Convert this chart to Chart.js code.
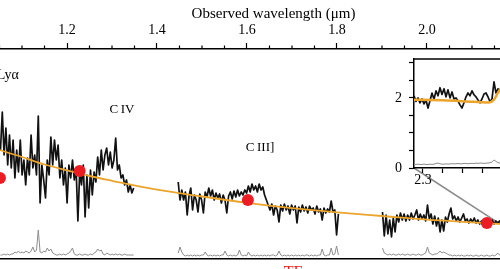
<!DOCTYPE html>
<html>
<head>
<meta charset="utf-8">
<script src="https://cdn.jsdelivr.net/npm/chart.js@4.4.0/dist/chart.umd.min.js"></script>
<style>
  html, body { margin: 0; padding: 0; background: #fff; }
  body { width: 500px; height: 269px; overflow: hidden; position: relative; }
  #mainWrap { position: absolute; left: -45px; top: 0; width: 637px; height: 269px; }
  #insetWrap { position: absolute; left: 370px; top: 50px; width: 220px; height: 140px; }
  #note { position: absolute; left: 265px; top: 264px; color: #e8201c; font: 16px/16px "Liberation Serif", serif; word-spacing: 8px; white-space: nowrap; }
</style>
</head>
<body>
<div id="mainWrap"><canvas id="mainChart" width="637" height="269"></canvas></div>
<div id="insetWrap"><canvas id="insetChart" width="220" height="140"></canvas></div>
<div id="note">a TE</div>
<script>
// binned spectrum: wavelength step (um) and three segments between the telluric gaps
const STEP = 0.004;

const SEG1_START = 1.0522;
const SEG1_FLUX = [109,147,104,131,94,124,91,119,81,109,87,119,84,99,74,101,84,124,91,104,
  84,143,56,94,79,61,99,84,122,94,119,99,114,81,99,74,91,56,94,81,
  99,79,91,38,87,74,94,42,84,51,89,64,87,77,102,84,109,89,104,111,
  94,107,91,99,121,89,94,81,84,74,79,67,74,66,71];
const SEG1_NOISE = [4,4,5,4,5,4,5,5,7,6,8,6,7,6,8,7,6,8,12,7,
  9,29,7,6,8,7,11,8,10,6,5,4,4,5,4,5,4,5,6,8,
  11,5,4,4,5,4,4,5,4,4,5,4,6,7,10,8,9,5,4,6,
  5,4,5,4,5,4,5,4,4,5,4,4,4,4,4];

const SEG2_START = 1.4471;
const SEG2_FLUX = [77,59,69,59,67,44,63,71,49,64,59,47,65,59,46,67,62,71,63,69,
  59,66,61,65,56,64,59,46,63,67,60,68,62,69,63,67,64,69,66,73,
  67,75,69,73,67,75,69,72,64,59,54,49,55,44,53,49,37,54,48,55,
  49,53,45,54,49,53,36,52,47,54,48,52,46,53,49,51,45,53,47,50,
  39,51,46,50,47,58,47,49,24,45];
const SEG2_NOISE = [6,12,7,4,3,4,3,4,3,4,3,4,3,4,4,7,4,3,4,3,
  4,3,4,3,4,4,8,4,3,4,3,4,3,4,9,4,3,4,3,7,
  4,3,4,3,4,3,4,3,4,3,4,3,4,4,3,4,8,4,3,4,
  3,4,3,4,3,4,3,4,3,4,3,4,4,3,4,3,4,3,4,4,
  10,4,3,4,4,11,4,5,13,4];

const SEG3_START = 1.9011;
const SEG3_FLUX = [47,23,44,25,39,22,41,27,44,37,46,39,45,38,44,39,46,40,44,49,
  39,45,40,44,38,54,40,45,35,43,33,41,27,39,28,42,37,45,51,40,
  43,38,42,37,41,45,38,40,36,40,37,41,36,39,35,38,36,39,35,38,
  36,39,35,38,36,38,35,37];
const SEG3_NOISE = [11,6,5,4,5,4,5,4,4,5,4,5,4,4,5,4,4,5,4,4,
  5,4,4,5,6,12,6,5,4,5,5,6,8,6,7,6,5,4,4,3,
  4,3,4,3,4,3,3,4,3,4,3,3,4,3,3,4,3,3,4,3,
  3,4,3,4,6,4,3,3];

// continuum model
const MODEL_WAVE = [0.95,1.00,1.05,1.10,1.15,1.20,1.25,1.30,1.40,1.50,1.60,1.70,1.80,1.90,2.00,2.10,2.20,2.30,2.37];
const MODEL_FLUX = [128,118,109,102,94.5,88.7,83,78.2,69.3,62.5,56.2,50.9,46.7,43,39.4,36.7,34.1,31.5,30];

// photometry
const PHOT_WAVE = [1.051, 1.228, 1.602, 2.133];
const PHOT_FLUX = [81, 88, 59, 36];

// connector from the inset to the zoomed region
const ZOOM_LINE_WAVE = [1.971, 2.22];
const ZOOM_LINE_FLUX = [91, 18.2];

// top axis
const TICK_VALUES = [1.0, 1.2, 1.4, 1.6, 1.8, 2.0, 2.2];
const TICK_LABELS = ['1.0', '1.2', '1.4', '1.6', '1.8', '2.0', '2.2'];

// line identifications
const LINE_NAMES = ['Lyα', 'C\u2009IV', 'C\u2009III]'];
const LINE_WAVE = [1.044, 1.322, 1.629];
const LINE_FLUX = [184, 149, 111];

// inset (zoom on the red end)
const INSET_STEP = 0.002;
const INSET_START = 2.291;
const INSET_FLUX = [2.06,1.90,2.00,1.86,1.97,1.83,1.94,1.71,1.92,2.14,
  1.96,2.20,2.06,2.29,2.10,2.26,2.03,2.23,2.00,2.17,
  1.97,2.00,1.91,1.80,1.71,1.86,2.03,2.14,2.06,2.20,
  2.09,2.03,1.94,1.86,1.97,2.11,2.14,2.03,1.89,1.97,
  2.46,2.14,2.26,2.20,2.09,2.23,2.14,2.03,2.17,2.06];
const INSET_NOISE = [0.10,0.10,0.11,0.10,0.10,0.11,0.10,0.10,0.11,0.10,
  0.11,0.13,0.14,0.12,0.11,0.11,0.12,0.11,0.12,0.12,
  0.12,0.12,0.13,0.12,0.12,0.13,0.13,0.12,0.13,0.13,
  0.13,0.14,0.13,0.14,0.14,0.13,0.14,0.14,0.15,0.17,
  0.23,0.19,0.15,0.14,0.14,0.15,0.14,0.14,0.15,0.14];
const INSET_MODEL_WAVE = [2.29, 2.32, 2.35, 2.366, 2.371, 2.375, 2.379, 2.385, 2.392, 2.40, 2.43];
const INSET_MODEL_FLUX = [1.95, 1.93, 1.89, 1.87, 1.95, 2.15, 2.30, 2.20, 1.95, 1.86, 1.84];
const INSET_X_TICKS = [2.30, 2.32, 2.34, 2.36, 2.38, 2.40, 2.42];
const INSET_X_LABELS = ['2.3', '', '', '', '', '2.4', ''];
const INSET_Y_TICKS = [0, 0.5, 1, 1.5, 2, 2.5, 3];
const INSET_Y_LABELS = ['0', '', '', '', '2', '', ''];

const BLACK = '#111';
const ORANGE = '#eba42c';
const GREY = '#8c8c8c';
const RED = '#ec1c24';

Chart.defaults.font.family = '"Liberation Serif", "DejaVu Serif", serif';
Chart.defaults.font.size = 14;
Chart.defaults.color = '#000';

function gridPoints(start, step, values) {
  return values.map((v, i) => ({ x: start + i * step, y: v }));
}

function joinSegments(list) {
  const out = [];
  list.forEach(([start, values], n) => {
    if (n > 0) out.push({ x: start - STEP, y: null });
    out.push(...gridPoints(start, STEP, values));
  });
  return out;
}

function pairs(xs, ys) {
  return xs.map((x, i) => ({ x: x, y: ys[i] }));
}

const minorTicks = [];
for (let i = 0; i < TICK_VALUES.length - 1; i++) {
  for (let j = 1; j < 4; j++) minorTicks.push(TICK_VALUES[i] + j * 0.05);
}

const mainDecor = {
  id: 'mainDecor',
  afterDraw(chart) {
    const { ctx, chartArea, scales: { x, y } } = chart;
    ctx.save();
    ctx.strokeStyle = '#000';
    ctx.lineWidth = 1.2;
    minorTicks.forEach(v => {
      const px = x.getPixelForValue(v);
      ctx.beginPath();
      ctx.moveTo(px, chartArea.top);
      ctx.lineTo(px, chartArea.top - 3.5);
      ctx.stroke();
    });
    ctx.fillStyle = '#000';
    ctx.textBaseline = 'middle';
    LINE_NAMES.forEach((name, i) => {
      ctx.font = (i === 0 ? 14 : 13) + 'px "Liberation Serif", serif';
      ctx.textAlign = i === 0 ? 'left' : 'center';
      ctx.fillText(name, x.getPixelForValue(LINE_WAVE[i]), y.getPixelForValue(LINE_FLUX[i]));
    });
    ctx.restore();
  }
};

const XMIN = 0.9511, XMAX = 2.3667;

new Chart(document.getElementById('mainChart'), {
  type: 'line',
  data: {
    datasets: [{
      data: pairs(PHOT_WAVE, PHOT_FLUX),
      showLine: false,
      pointRadius: 6,
      pointBackgroundColor: RED,
      pointBorderWidth: 0
    }, {
      data: pairs(MODEL_WAVE, MODEL_FLUX),
      borderColor: ORANGE,
      borderWidth: 1.8,
      pointRadius: 0,
      cubicInterpolationMode: 'monotone'
    }, {
      data: joinSegments([[SEG1_START, SEG1_FLUX], [SEG2_START, SEG2_FLUX], [SEG3_START, SEG3_FLUX]]),
      borderColor: BLACK,
      borderWidth: 1.7,
      borderJoinStyle: 'round',
      pointRadius: 0,
      spanGaps: false
    }, {
      data: joinSegments([[SEG1_START, SEG1_NOISE], [SEG2_START, SEG2_NOISE], [SEG3_START, SEG3_NOISE]]),
      borderColor: GREY,
      borderWidth: 1,
      pointRadius: 0,
      spanGaps: false
    }, {
      data: pairs(ZOOM_LINE_WAVE, ZOOM_LINE_FLUX),
      borderColor: GREY,
      borderWidth: 1.5,
      pointRadius: 0
    }]
  },
  options: {
    responsive: false,
    animation: false,
    layout: { padding: 0, autoPadding: false },
    plugins: { legend: { display: false }, tooltip: { enabled: false } },
    scales: {
      x: {
        type: 'linear',
        position: 'top',
        min: XMIN,
        max: XMAX,
        afterFit: s => { s.height = 49; },
        afterBuildTicks: s => { s.ticks = TICK_VALUES.map(v => ({ value: v })); },
        ticks: { autoSkip: false, maxRotation: 0, padding: 4, callback: (v, i) => TICK_LABELS[i] },
        grid: { drawOnChartArea: false, tickLength: 6, tickWidth: 1.2, tickColor: '#000' },
        border: { color: '#000', width: 1.5 },
        title: { display: true, text: 'Observed wavelength (μm)', font: { size: 15 }, padding: { top: 5, bottom: 0 } }
      },
      xb: {
        type: 'linear',
        position: 'bottom',
        min: XMIN,
        max: XMAX,
        afterFit: s => { s.height = 10; },
        ticks: { display: false },
        grid: { display: false },
        border: { color: '#000', width: 1.6 }
      },
      y: { display: false, min: 0, max: 210 }
    }
  },
  plugins: [mainDecor]
});

const insetFrame = {
  id: 'insetFrame',
  beforeDraw(chart) {
    const { ctx, chartArea: a } = chart;
    ctx.save();
    ctx.fillStyle = '#fff';
    ctx.fillRect(a.left, a.top, a.right - a.left, a.bottom - a.top);
    ctx.restore();
  },
  afterDraw(chart) {
    const { ctx, chartArea: a } = chart;
    ctx.save();
    ctx.strokeStyle = '#000';
    ctx.lineWidth = 1.5;
    ctx.beginPath();
    ctx.moveTo(a.left, a.top);
    ctx.lineTo(a.right, a.top);
    ctx.lineTo(a.right, a.bottom);
    ctx.stroke();
    ctx.restore();
  }
};

new Chart(document.getElementById('insetChart'), {
  type: 'line',
  data: {
    datasets: [{
      data: pairs(INSET_MODEL_WAVE, INSET_MODEL_FLUX),
      borderColor: ORANGE,
      borderWidth: 2.5,
      pointRadius: 0,
      cubicInterpolationMode: 'monotone'
    }, {
      data: gridPoints(INSET_START, INSET_STEP, INSET_FLUX),
      borderColor: BLACK,
      borderWidth: 1.7,
      borderJoinStyle: 'round',
      pointRadius: 0
    }, {
      data: gridPoints(INSET_START, INSET_STEP, INSET_NOISE),
      borderColor: GREY,
      borderWidth: 1,
      pointRadius: 0
    }]
  },
  options: {
    responsive: false,
    animation: false,
    layout: { padding: { top: 9, right: 30, left: 0, bottom: 0 }, autoPadding: false },
    plugins: { legend: { display: false }, tooltip: { enabled: false } },
    scales: {
      x: {
        type: 'linear',
        min: 2.291,
        max: 2.437,
        afterFit: s => { s.height = 22; s.paddingLeft = 0; s.paddingRight = 0; },
        afterBuildTicks: s => { s.ticks = INSET_X_TICKS.map(v => ({ value: v })); },
        ticks: { autoSkip: false, maxRotation: 0, padding: -1, callback: (v, i) => INSET_X_LABELS[i] },
        grid: { drawOnChartArea: false, tickLength: 5, tickWidth: 1.2, tickColor: '#000' },
        border: { color: '#000', width: 1.5 }
      },
      y: {
        min: 0,
        max: 3.11,
        afterFit: s => { s.width = 44; s.paddingTop = 0; s.paddingBottom = 0; },
        afterBuildTicks: s => { s.ticks = INSET_Y_TICKS.map(v => ({ value: v })); },
        ticks: { autoSkip: false, padding: 7, callback: (v, i) => INSET_Y_LABELS[i] },
        grid: { drawOnChartArea: false, tickLength: 5, tickWidth: 1.2, tickColor: '#000' },
        border: { color: '#000', width: 1.5 }
      }
    }
  },
  plugins: [insetFrame]
});
</script>
</body>
</html>
